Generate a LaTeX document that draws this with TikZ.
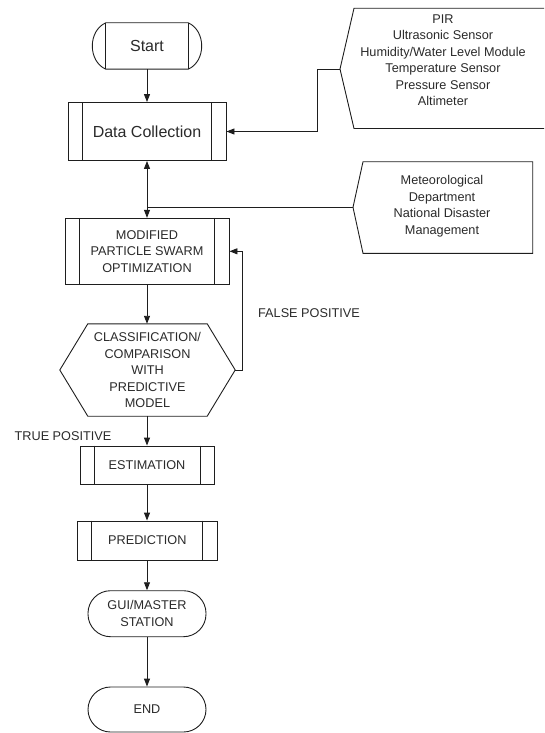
\documentclass[tikz,border=0pt]{standalone}
\usepackage{fontspec}
\setmainfont{Liberation Sans}
\usetikzlibrary{arrows.meta,calc}
\definecolor{ink}{HTML}{1E1E1E}
\definecolor{txt}{HTML}{2A2A2A}
\tikzset{
  ln/.style={draw=ink, line width=0.9pt},
  arr/.style={ln, -{Triangle[length=8pt,width=6pt]}},
  dblarr/.style={ln, {Triangle[length=8pt,width=6pt]}-{Triangle[length=8pt,width=6pt]}},
  small/.style={font=\fontsize{12.7}{16.5}\selectfont, text=txt, align=center, inner sep=0pt},
  big/.style={font=\fontsize{16}{19}\selectfont, text=txt, align=center, inner sep=0pt},
  proc/.style={ln, rectangle, minimum width=#1, inner sep=0pt},
  term/.style={ln, rectangle, rounded corners=22.5pt, minimum width=118pt, minimum height=45pt, inner sep=0pt},
  blank/.style={rectangle, inner sep=0pt, minimum width=#1},
}
\begin{document}
\begin{tikzpicture}[x=1pt,y=-1pt]
\useasboundingbox (0,0) rectangle (544,733);

% Start
\node[blank=82pt, minimum height=46pt, big] (start) at (147,46) {Start};
\draw[ln] (start.north west) -- (start.south west);
\draw[ln] (start.north east) -- (start.south east);
\draw[ln] (start.north west) -- (start.north east)
  .. controls ($(start.north east)+(18,8)$) and ($(start.south east)+(18,-8)$) .. (start.south east)
  -- (start.south west)
  .. controls ($(start.south west)+(-18,-8)$) and ($(start.north west)+(-18,8)$) .. (start.north west);

% Data Collection
\node[proc=158pt, minimum height=58pt, big] (dc) at (147,131.5) {Data Collection};
\draw[ln] ($(dc.north west)+(15,0)$) -- ($(dc.south west)+(15,0)$);
\draw[ln] ($(dc.north east)+(-15,0)$) -- ($(dc.south east)+(-15,0)$);

% MPSO
\node[proc=164pt, minimum height=66pt, small] (mpso) at (147,251.3) {MODIFIED\\PARTICLE SWARM\\OPTIMIZATION};
\draw[ln] ($(mpso.north west)+(15,0)$) -- ($(mpso.south west)+(15,0)$);
\draw[ln] ($(mpso.north east)+(-15,0)$) -- ($(mpso.south east)+(-15,0)$);

% Hexagon
\node[blank=175pt, minimum height=92pt, small] (hex) at (147.5,370) {CLASSIFICATION/\\COMPARISON\\WITH\\PREDICTIVE\\MODEL};
\draw[ln] (hex.west) -- ($(hex.north west)+(28,0)$) -- ($(hex.north east)+(-28,0)$) -- (hex.east)
  -- ($(hex.south east)+(-28,0)$) -- ($(hex.south west)+(28,0)$) -- cycle;

% Estimation
\node[proc=134pt, minimum height=38pt, small] (est) at (147,465) {ESTIMATION};
\draw[ln] ($(est.north west)+(15,0)$) -- ($(est.south west)+(15,0)$);
\draw[ln] ($(est.north east)+(-14,0)$) -- ($(est.south east)+(-14,0)$);

% Prediction
\node[proc=140pt, minimum height=39pt, small] (pred) at (147.3,540.5) {PREDICTION};
\draw[ln] ($(pred.north west)+(14.5,0)$) -- ($(pred.south west)+(14.5,0)$);
\draw[ln] ($(pred.north east)+(-15,0)$) -- ($(pred.south east)+(-15,0)$);

% GUI and END
\node[term, minimum height=46pt, small] (gui) at (147,613.7) {GUI/MASTER\\STATION};
\node[term, small] (endn) at (147,709.5) {END};

% Sensors box
\node[small] (sens) at (443,60) {PIR\\Ultrasonic Sensor\\Humidity/Water Level Module\\Temperature Sensor\\Pressure Sensor\\Altimeter};
\coordinate (sp) at (340,69);
\draw[ln] (544,8.3) -- (354,8.3) -- (sp) -- (354,128.5) -- (544,128.5);

% Meteorological box
\node[small] (met) at (442,206) {Meteorological\\Department\\National Disaster\\Management};
\coordinate (mp) at (353,207.3);
\draw[ln] (532.7,161.7) -- (363,161.7) -- (mp) -- (363,253.3) -- (532.7,253.3) -- cycle;

% Labels
\node[small] (fp) at (309,313.5) {FALSE POSITIVE};
\node[small] (tp) at (63,436.5) {TRUE POSITIVE};

% Connectors
\draw[arr] (start.south) -- (dc.north);
\draw[arr] (sp) -- ++(-23,0) |- (dc.east);
\draw[dblarr] (dc.south) -- (mpso.north);
\draw[ln] (mp) -- (mp -| dc.south);
\draw[arr] (mpso.south) -- (hex.north -| mpso.south);
\draw[arr] (hex.east) -- ++(7.5,0) |- (mpso.east);
\draw[arr] (hex.south -| est.north) -- (est.north);
\draw[arr] (est.south) -- (est.south |- pred.north);
\draw[arr] (pred.south -| gui.north) -- (gui.north);
\draw[arr] (gui.south) -- (endn.north);
\end{tikzpicture}
\end{document}
